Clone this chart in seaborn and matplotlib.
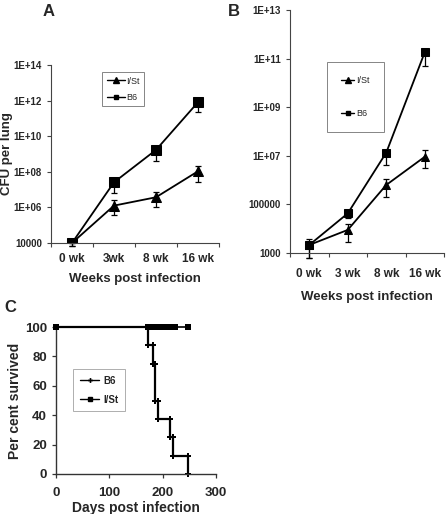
import numpy as np
import pandas as pd
import seaborn as sns
import matplotlib.pyplot as plt
from matplotlib.lines import Line2D

sns.set_theme(style="ticks")
plt.rcParams['font.family'] = ['Liberation Sans', 'DejaVu Sans']
plt.rcParams['font.weight'] = 'bold'

# panel A / B: log10 CFU per lung
weeks = ["0 wk", "3wk", "8 wk", "16 wk"]
weeks_b = ["0 wk", "3 wk", "8 wk", "16 wk"]

a_b6 = [4.0, 7.41, 9.23, 11.91]
a_b6_lo = [3.85, 6.80, 8.60, 11.35]
a_ist = [4.0, 6.10, 6.57, 8.03]
a_ist_lo = [3.85, 5.60, 6.03, 7.43]
a_ist_hi = [4.0, 6.40, 6.86, 8.32]

b_b6 = [3.33, 4.63, 7.13, 11.26]
b_b6_lo = [2.80, 4.45, 6.62, 10.70]
b_ist = [3.33, 3.95, 5.80, 6.96]
b_ist_lo = [2.80, 3.45, 5.30, 6.49]
b_ist_hi = [3.58, 4.20, 6.05, 7.24]

# panel C: survival (days, per cent)
b6_days = [0, 173, 181, 185, 191, 214, 220, 248]
b6_surv = [100, 87.5, 75, 50, 37.5, 25, 12.5, 0]
ist_censor = [0, 173, 176, 179, 182, 185, 188, 191, 194, 197, 200,
              208, 211, 214, 217, 220, 223, 248]

fig = plt.figure(figsize=(4.48, 5.14), dpi=100)
axA = fig.add_axes([51/448, 1-243/514, (219-51)/448, (243-65)/514])
axB = fig.add_axes([290/448, 1-253/514, (444-290)/448, (253-10)/514])
axC = fig.add_axes([56/448, 1-474/514, (216-56)/448, (474-327)/514])


def cfu_panel(ax, labels, b6, b6_lo, ist, ist_lo, ist_hi, ylo, yhi, msize, tpad, lpad):
    x = np.arange(len(labels))
    df = pd.DataFrame({"x": np.concatenate([x, x]),
                       "y": np.concatenate([np.power(10.0, ist), np.power(10.0, b6)]),
                       "strain": ["I/St"] * 4 + ["B6"] * 4})
    sns.lineplot(data=df, x="x", y="y", hue="strain", style="strain",
                 markers={"I/St": "^", "B6": "s"}, dashes=False,
                 palette={"I/St": "black", "B6": "black"}, linewidth=1.3,
                 markersize=msize, markeredgecolor='black', legend=False, ax=ax)
    yb = np.power(10.0, b6)
    ax.errorbar(x, yb, yerr=[yb - np.power(10.0, b6_lo), np.zeros(4)], fmt='none',
                ecolor='black', elinewidth=0.9, capsize=2.5, capthick=0.9, clip_on=False)
    yi = np.power(10.0, ist)
    ax.errorbar(x, yi, yerr=[yi - np.power(10.0, ist_lo), np.power(10.0, ist_hi) - yi],
                fmt='none', ecolor='black', elinewidth=0.9, capsize=2.5, capthick=0.9,
                clip_on=False)
    ax.set_yscale('log')
    ax.set_ylim(10.0 ** ylo, 10.0 ** yhi)
    ax.set_xlim(-0.5, 3.5)
    ax.set_xticks(x)
    ax.set_xticklabels(labels, fontsize=8.5, fontweight='bold')
    ax.set_xticks(np.arange(-0.5, 4.0, 1.0), minor=True)
    ax.tick_params(axis='x', which='major', length=0, pad=tpad)
    ax.tick_params(axis='x', which='minor', length=3, width=0.8, color='#444444')
    ax.set_yticks([10.0 ** k for k in range(ylo, yhi + 1, 2)])
    ax.yaxis.set_minor_locator(plt.NullLocator())
    ax.tick_params(axis='y', labelsize=7, length=3, width=0.8, color='#444444')
    for s in ['top', 'right']:
        ax.spines[s].set_visible(False)
    for s in ['left', 'bottom']:
        ax.spines[s].set_linewidth(0.8)
        ax.spines[s].set_color('#444444')
    ax.set_xlabel("Weeks post infection", fontsize=9.5, fontweight='bold', labelpad=lpad)
    ax.set_ylabel("")


cfu_panel(axA, weeks, a_b6, a_b6_lo, a_ist, a_ist_lo, a_ist_hi, 4, 14, 7.5, 7, 6)
axA.set_yticklabels(["10000", "1E+06", "1E+08", "1E+10", "1E+12", "1E+14"],
                    fontweight='bold')
axA.set_ylabel("CFU per lung", fontsize=9.5, fontweight='bold')
axA.yaxis.set_label_coords((13 - 51) / 168, 0.5)

cfu_panel(axB, weeks_b, b_b6, b_b6_lo, b_ist, b_ist_lo, b_ist_hi, 3, 13, 5.5, 11, 8)
axB.set_yticklabels(["1000", "100000", "1E+07", "1E+09", "1E+11", "1E+13"],
                    fontweight='bold')

hA = [Line2D([], [], color='black', marker='^', markersize=4, lw=1),
      Line2D([], [], color='black', marker='s', markersize=3.5, lw=1)]
legA = axA.legend(hA, ["I/St", "B6"], loc='upper left', bbox_to_anchor=(102/448, 1-72/514),
                  bbox_transform=fig.transFigure, frameon=True, fancybox=False,
                  edgecolor='#666666', handlelength=2.0, handletextpad=0.2,
                  borderpad=0.5, borderaxespad=0, labelspacing=0.8,
                  prop={'size': 6.5, 'weight': 'normal'})
legA.get_frame().set_linewidth(0.7)

hB = [Line2D([], [], color='black', marker='^', markersize=4, lw=1),
      Line2D([], [], color='black', marker='s', markersize=3.5, lw=1)]
legB = axB.legend(hB, ["I/St", "B6"], loc='upper left', bbox_to_anchor=(327/448, 1-62/514),
                  bbox_transform=fig.transFigure, frameon=True, fancybox=False,
                  edgecolor='#666666', handlelength=1.4, handletextpad=0.2,
                  borderpad=1.6, borderaxespad=0, labelspacing=2.6,
                  prop={'size': 6.5, 'weight': 'normal'})
legB.get_frame().set_linewidth(0.7)

# panel C survival
xs, ys = [], []
for i, d in enumerate(b6_days):
    if i > 0:
        xs.append(d)
        ys.append(b6_surv[i - 1])
    xs.append(d)
    ys.append(b6_surv[i])
surv_df = pd.DataFrame({"day": xs, "pct": ys})
sns.lineplot(data=surv_df, x="day", y="pct", sort=False, estimator=None,
             color='black', linewidth=1.6, marker='P', markersize=4,
             markeredgewidth=0, ax=axC, clip_on=False)
axC.plot([0, ist_censor[-1]], [100, 100], color='black', lw=1.2, clip_on=False, zorder=3)
cens_df = pd.DataFrame({"day": ist_censor, "pct": [100] * len(ist_censor)})
sns.scatterplot(data=cens_df, x="day", y="pct", marker='s', s=14, color='black',
                edgecolor='black', linewidth=0, ax=axC, clip_on=False, zorder=4)
axC.set_xlim(0, 300)
axC.set_ylim(0, 100)
axC.set_xticks([0, 100, 200, 300])
axC.set_yticks([0, 20, 40, 60, 80, 100])
axC.tick_params(labelsize=9.5, length=3, width=0.9, color='#333333')
axC.tick_params(axis='x', pad=6)
for lab in axC.get_xticklabels() + axC.get_yticklabels():
    lab.set_fontweight('bold')
for s in ['top', 'right']:
    axC.spines[s].set_visible(False)
for s in ['left', 'bottom']:
    axC.spines[s].set_linewidth(1.0)
    axC.spines[s].set_color('#333333')
axC.set_xlabel("Days post infection", fontsize=10, fontweight='bold', labelpad=2)
axC.set_ylabel("Per cent survived", fontsize=10, fontweight='bold', labelpad=2)

hC = [Line2D([], [], color='black', marker='P', markersize=3.5, markeredgewidth=0, lw=1),
      Line2D([], [], color='black', marker='s', markersize=3, lw=1)]
legC = axC.legend(hC, ["B6", "I/St"], loc='upper left', bbox_to_anchor=(73/448, 1-369/514),
                  bbox_transform=fig.transFigure, frameon=True, fancybox=False,
                  edgecolor='#999999', handlelength=2.0, handletextpad=0.4,
                  borderpad=0.7, borderaxespad=0, labelspacing=0.9,
                  prop={'size': 7, 'weight': 'bold'})
legC.get_frame().set_linewidth(0.7)

fig.text(43/448, 1-12/514, "A", fontsize=12, fontweight='bold', va='center')
fig.text(228/448, 1-11/514, "B", fontsize=12, fontweight='bold', va='center')
fig.text(4/448, 1-308/514, "C", fontsize=12, fontweight='bold', va='center')

fig.savefig("out.png", dpi=100)
